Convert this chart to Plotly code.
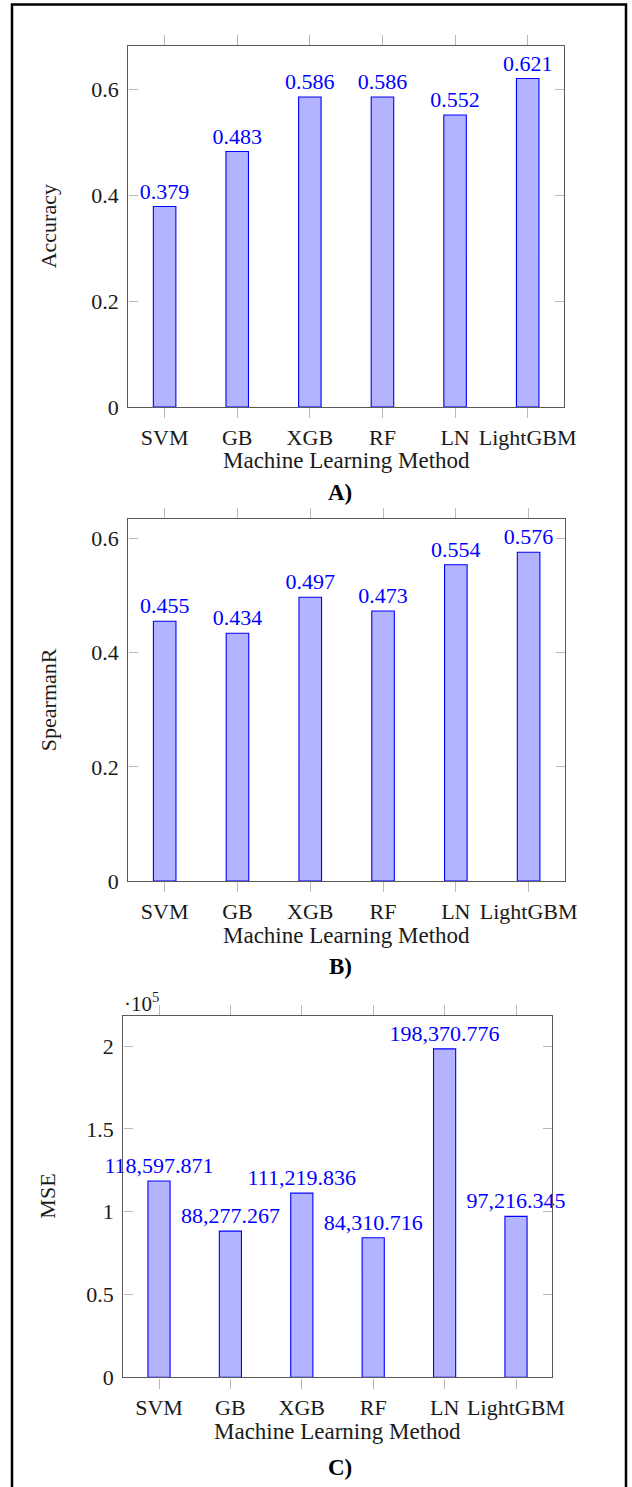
import plotly.graph_objects as go

# Figure size in pixels
W, H = 632, 1487

# ---- data ----
methods = ["SVM", "GB", "XGB", "RF", "LN", "LightGBM"]
accuracy = [0.379, 0.483, 0.586, 0.586, 0.552, 0.621]
spearman_r = [0.455, 0.434, 0.497, 0.473, 0.554, 0.576]
mse = [118597.871, 88277.267, 111219.836, 84310.716, 198370.776, 97216.345]

frac_ticks = [0, 0.2, 0.4, 0.6]
frac_ticktext = ["0", "0.2", "0.4", "0.6"]
mse_ticks = [0, 50000, 100000, 150000, 200000]
mse_ticktext = ["0", "0.5", "1", "1.5", "2"]

FONT = "Liberation Serif"
TXT = "#1a1a1a"
BLUE = "#0000ff"
FILL = "#b3b3ff"


def fx(px):
    return px / W


def fy(py):
    return 1 - py / H


# panel boxes in pixels: (left, right, top, bottom)
panels = [
    dict(box=(128.3, 564.0, 45.7, 407.0), y=accuracy, ytitle="Accuracy",
         tmpl="%{y:.3f}", tv=frac_ticks, tt=frac_ticktext, tag="A)"),
    dict(box=(128.3, 565.0, 519.3, 881.0), y=spearman_r, ytitle="SpearmanR",
         tmpl="%{y:.3f}", tv=frac_ticks, tt=frac_ticktext, tag="B)"),
    dict(box=(123.3, 551.7, 1016.0, 1377.3), y=mse, ytitle="MSE",
         tmpl="%{y:,.3f}", tv=mse_ticks, tt=mse_ticktext, tag="C)"),
]

fig = go.Figure()
annotations = []

for i, p in enumerate(panels, start=1):
    l, r, t, b = p["box"]
    xa = "x" if i == 1 else f"x{i}"
    ya = "y" if i == 1 else f"y{i}"
    fig.add_trace(go.Bar(
        x=methods, y=p["y"], xaxis=xa, yaxis=ya,
        width=0.31,
        marker=dict(color=FILL, line=dict(color=BLUE, width=1.1)),
        texttemplate=p["tmpl"], textposition="outside",
        textfont=dict(family=FONT, size=22, color=BLUE),
        constraintext="none", cliponaxis=False,
        showlegend=False, hoverinfo="skip",
    ))
    ymax = max(p["y"]) * 1.1
    xkey = "xaxis" if i == 1 else f"xaxis{i}"
    ykey = "yaxis" if i == 1 else f"yaxis{i}"
    fig.update_layout(**{
        xkey: dict(
            domain=[fx(l), fx(r)], anchor=ya, range=[-0.5, 5.5],
            showline=True, linecolor="#5a5a5a", linewidth=1.4, mirror="ticks",
            ticks="outside", ticklen=10, tickcolor="#b8b8b8", tickwidth=1,
            showgrid=False, zeroline=False, fixedrange=True,
            tickfont=dict(family=FONT, size=22, color=TXT),
        ),
        ykey: dict(
            domain=[fy(b), fy(t)], anchor=xa, range=[0, ymax],
            showline=True, linecolor="#5a5a5a", linewidth=1.4, mirror="ticks",
            ticks="inside", ticklen=9, tickcolor="#b8b8b8", tickwidth=1,
            tickvals=p["tv"], ticktext=p["tt"], ticklabelstandoff=4,
            showgrid=False, zeroline=False, fixedrange=True,
            tickfont=dict(family=FONT, size=22, color=TXT),
        ),
    })
    # x-axis title
    annotations.append(dict(
        text="Machine Learning Method", xref="paper", yref="paper",
        x=fx((l + r) / 2), y=fy(b + 54), xanchor="center", yanchor="middle",
        showarrow=False, font=dict(family=FONT, size=23, color=TXT),
    ))
    # y-axis title
    annotations.append(dict(
        text=p["ytitle"], xref="paper", yref="paper", textangle=-90,
        x=fx(48), y=fy((t + b) / 2), xanchor="center", yanchor="middle",
        showarrow=False, font=dict(family=FONT, size=22, color=TXT),
    ))
    # panel tag
    annotations.append(dict(
        text=f"<b>{p['tag']}</b>", xref="paper", yref="paper",
        x=fx(340), y=fy(b + 85 if i < 3 else b + 90), xanchor="center", yanchor="middle",
        showarrow=False, font=dict(family=FONT, size=23, color="#000000"),
    ))

# scale factor label for the MSE axis
annotations.append(dict(
    text="·10<sup>5</sup>", xref="paper", yref="paper",
    x=fx(122), y=fy(1002), xanchor="left", yanchor="middle",
    showarrow=False, font=dict(family=FONT, size=21, color=TXT),
))

fig.update_layout(
    width=W, height=H,
    margin=dict(l=0, r=0, t=0, b=0, autoexpand=False),
    paper_bgcolor="white", plot_bgcolor="white",
    annotations=annotations,
    shapes=[dict(
        type="rect", xref="paper", yref="paper",
        x0=fx(12), x1=fx(626), y0=fy(1500), y1=fy(4.5),
        line=dict(color="black", width=2.5), fillcolor="rgba(0,0,0,0)",
        layer="above",
    )],
)

fig.write_html("out.html")
